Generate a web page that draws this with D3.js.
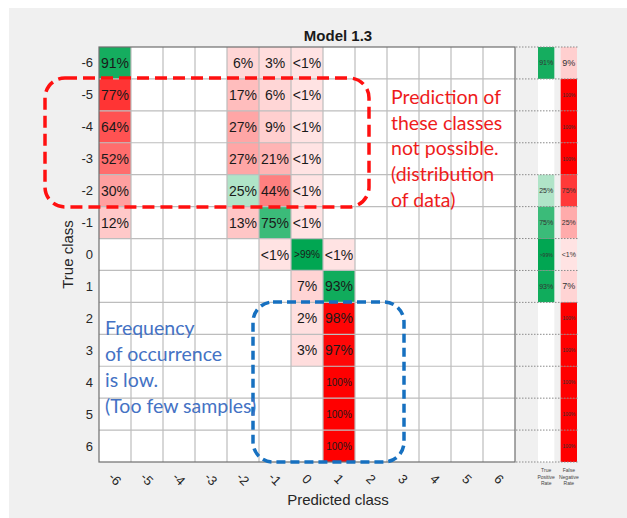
<!DOCTYPE html>
<html><head><meta charset="utf-8">
<script src="https://cdn.jsdelivr.net/npm/d3@7"></script>
<style>
html,body{margin:0;padding:0;background:#fff;}
svg{display:block;}
</style></head>
<body>
<script>
// ---- data ----
const classes = [-6,-5,-4,-3,-2,-1,0,1,2,3,4,5,6];
// [trueClass, predictedClass, value(%), label]
const cellTrue  = [-6,-6,-6,-6, -5,-5,-5,-5, -4,-4,-4,-4, -3,-3,-3,-3, -2,-2,-2,-2, -1,-1,-1,-1, 0,0,0, 1,1, 2,2, 3,3, 4, 5, 6];
const cellPred  = [-6,-2,-1,0, -6,-2,-1,0, -6,-2,-1,0, -6,-2,-1,0, -6,-2,-1,0, -6,-2,-1,0, -1,0,1, 0,1, 0,1, 0,1, 1, 1, 1];
const cellValue = [91,6,3,0.5, 77,17,6,0.5, 64,27,9,0.5, 52,27,21,0.5, 30,25,44,0.5, 12,13,75,0.5, 0.5,99.5,0.5, 7,93, 2,98, 3,97, 100,100,100];
const cellLabel = ["91%","6%","3%","<1%","77%","17%","6%","<1%","64%","27%","9%","<1%","52%","27%","21%","<1%","30%","25%","44%","<1%","12%","13%","75%","<1%","<1%",">99%","<1%","7%","93%","2%","98%","3%","97%","100%","100%","100%"];
// per-row summary (true positive rate / false negative rate), null = empty
const tprValue = [91,null,null,null,25,75,99.5,93,null,null,null,null,null];
const tprLabel = ["91%","","","","25%","75%",">99%","93%","","","","",""];
const fnrValue = [9,100,100,100,75,25,0.5,7,100,100,100,100,100];
const fnrLabel = ["9%","100%","100%","100%","75%","25%","<1%","7%","100%","100%","100%","100%","100%"];
const summaryCols = ["tpr","fnr"];
const summaryNames = [["True","Positive","Rate"],["False","Negative","Rate"]];
const titleText = "Model 1.3";
const xLabel = "Predicted class";
const yLabel = "True class";
const redNote = ["Prediction of","these classes","not possible.","(distribution","of data)"];
const blueNote = ["Frequency","of occurrence","is low.","(Too few samples)"];

// ---- drawing ----
const W = 627, H = 518;
const svg = d3.select("body").append("svg").attr("width", W).attr("height", H);
svg.append("rect").attr("x",9).attr("y",8).attr("width",W-9).attr("height",H-8).attr("fill","#f0f0f0");

const x = d3.scaleBand().domain(classes).range([99,515]);
const y = d3.scaleBand().domain(classes).range([47,462]);
const sx = d3.scaleBand().domain(summaryCols).range([538,577]).paddingInner(0.28);

const green = d3.interpolateRgb("rgb(235,248,240)","rgb(0,166,81)");
const red = d3.interpolateRgb("rgb(255,228,228)","rgb(255,0,0)");
const font = "'Liberation Sans', Arial, Helvetica, sans-serif";

// plot background
svg.append("rect").attr("x",x.range()[0]).attr("y",y.range()[0])
  .attr("width",x.range()[1]-x.range()[0]).attr("height",y.range()[1]-y.range()[0]).attr("fill","#fff");

const cells = cellTrue.map((t,i)=>({t, p:cellPred[i], v:cellValue[i], l:cellLabel[i]}));
const g = svg.append("g");
g.selectAll("rect.cell").data(cells).join("rect").attr("class","cell")
  .attr("x",d=>x(d.p)).attr("y",d=>y(d.t)).attr("width",x.bandwidth()).attr("height",y.bandwidth())
  .attr("fill",d=> d.t===d.p ? green(d.v/100) : red(d.v/100));

// grid lines
const gl = svg.append("g").attr("stroke","#bdbdbd").attr("stroke-width",1.2);
classes.forEach((c,i)=>{
  if(i===0) return;
  gl.append("line").attr("x1",x(c)).attr("x2",x(c)).attr("y1",y.range()[0]).attr("y2",y.range()[1]);
  gl.append("line").attr("y1",y(c)).attr("y2",y(c)).attr("x1",x.range()[0]).attr("x2",x.range()[1]);
});
svg.append("rect").attr("x",x.range()[0]).attr("y",y.range()[0])
  .attr("width",x.range()[1]-x.range()[0]).attr("height",y.range()[1]-y.range()[0])
  .attr("fill","none").attr("stroke","#6e6e6e").attr("stroke-width",1.2);

// cell text
g.selectAll("text.cell").data(cells).join("text").attr("class","cell")
  .attr("x",d=>x(d.p)+x.bandwidth()/2).attr("y",d=>y(d.t)+y.bandwidth()/2)
  .attr("text-anchor","middle").attr("dominant-baseline","central")
  .attr("font-family",font).attr("fill","#1a1a1a")
  .attr("font-size",d=> d.l.length>3 ? 10 : 14)
  .text(d=>d.l);

// summary columns
const rows = classes.map((c,i)=>({c, tv:tprValue[i], tl:tprLabel[i], fv:fnrValue[i], fl:fnrLabel[i]}));
const sg = svg.append("g");
sg.selectAll("rect.tpr").data(rows).join("rect")
  .attr("x",sx("tpr")).attr("y",d=>y(d.c)).attr("width",sx.bandwidth()).attr("height",y.bandwidth())
  .attr("fill",d=> d.tv==null ? "#fff" : green(d.tv/100));
sg.selectAll("rect.fnr").data(rows).join("rect")
  .attr("x",sx("fnr")).attr("y",d=>y(d.c)).attr("width",sx.bandwidth()).attr("height",y.bandwidth())
  .attr("fill",d=> red(d.fv/100));
const dots = svg.append("g").attr("stroke","#8a8a8a").attr("stroke-width",1).attr("stroke-dasharray","1.5,1.5");
classes.concat(["end"]).forEach(c=>{
  const yy = c==="end" ? y.range()[1] : y(c);
  dots.append("line").attr("x1",x.range()[1]+1).attr("x2",sx("fnr")+sx.bandwidth()+1).attr("y1",yy).attr("y2",yy);
});
function sumSize(l){ return l.length>=4 ? 5 : (l.length===3 ? 7 : 9); }
sg.selectAll("text.tpr").data(rows).join("text")
  .attr("x",sx("tpr")+sx.bandwidth()/2).attr("y",d=>y(d.c)+y.bandwidth()/2)
  .attr("text-anchor","middle").attr("dominant-baseline","central").attr("font-family",font)
  .attr("fill","#333").attr("font-size",d=>sumSize(d.tl)).text(d=>d.tl);
sg.selectAll("text.fnr").data(rows).join("text")
  .attr("x",sx("fnr")+sx.bandwidth()/2).attr("y",d=>y(d.c)+y.bandwidth()/2)
  .attr("text-anchor","middle").attr("dominant-baseline","central").attr("font-family",font)
  .attr("fill","#333").attr("font-size",d=>sumSize(d.fl)).text(d=>d.fl);
summaryCols.forEach((k,i)=>{
  const t = svg.append("text").attr("x",sx(k)+sx.bandwidth()/2).attr("y",472)
    .attr("text-anchor","middle").attr("font-family",font).attr("font-size",5).attr("fill","#444");
  summaryNames[i].forEach((s,j)=>t.append("tspan").attr("x",sx(k)+sx.bandwidth()/2).attr("dy",j===0?0:6.5).text(s));
});

// axes
const yAxis = svg.append("g");
yAxis.selectAll("text").data(classes).join("text")
  .attr("x",x.range()[0]-6).attr("y",d=>y(d)+y.bandwidth()/2)
  .attr("text-anchor","end").attr("dominant-baseline","central")
  .attr("font-family",font).attr("font-size",13).attr("fill","#262626").text(d=>d);
const xAxis = svg.append("g");
xAxis.selectAll("text").data(classes).join("text")
  .attr("transform",d=>`translate(${x(d)+x.bandwidth()/2},${y.range()[1]+17}) rotate(45)`)
  .attr("text-anchor","middle").attr("dominant-baseline","central")
  .attr("font-family",font).attr("font-size",13).attr("fill","#262626").text(d=>d);

const cxAll = (x.range()[0] + sx("fnr")+sx.bandwidth())/2;
svg.append("text").attr("x",cxAll).attr("y",41).attr("text-anchor","middle")
  .attr("font-family",font).attr("font-weight","bold").attr("font-size",15).attr("fill","#1a1a1a").text(titleText);
svg.append("text").attr("x",cxAll).attr("y",505).attr("text-anchor","middle")
  .attr("font-family",font).attr("font-size",15).attr("fill","#262626").text(xLabel);
svg.append("text").attr("transform",`translate(73,${(y.range()[0]+y.range()[1])/2}) rotate(-90)`)
  .attr("text-anchor","middle").attr("font-family",font).attr("font-size",15).attr("fill","#262626").text(yLabel);

// annotations
svg.append("rect").attr("x",45).attr("y",78).attr("width",324).attr("height",129).attr("rx",20)
  .attr("fill","none").attr("stroke","#ff1010").attr("stroke-width",3.5).attr("stroke-dasharray","12,6");
svg.append("rect").attr("x",253).attr("y",302).attr("width",151).attr("height",160).attr("rx",20)
  .attr("fill","none").attr("stroke","#1670c0").attr("stroke-width",3.5).attr("stroke-dasharray","9,5");
const nf = "Lato, 'Open Sans', sans-serif";
redNote.forEach((s,i)=>svg.append("text").attr("x",391).attr("y",104+i*25.7)
  .attr("font-family",nf).attr("font-size",19.5).attr("fill","#ee1c1c").text(s));
blueNote.forEach((s,i)=>svg.append("text").attr("x",105).attr("y",335+i*26)
  .attr("font-family",nf).attr("font-size",19.5).attr("fill","#4472c4").text(s));
</script>
</body></html>
